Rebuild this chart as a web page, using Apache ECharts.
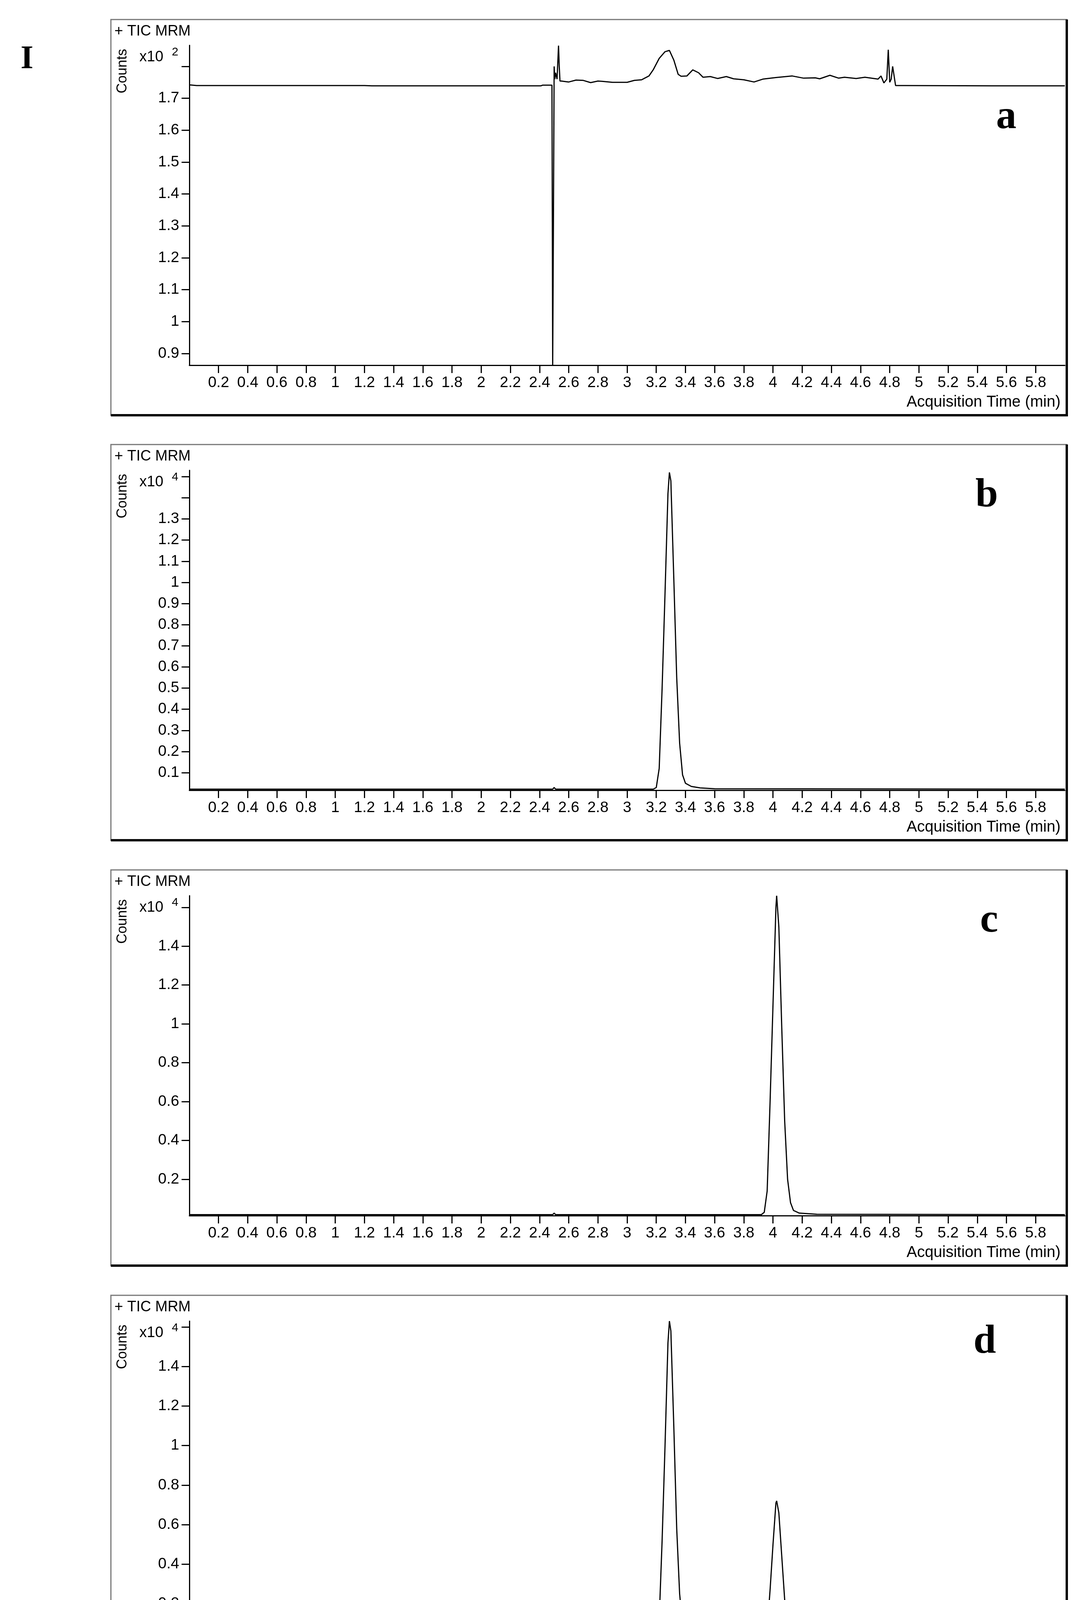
<!DOCTYPE html>
<html><head><meta charset="utf-8">
<script src="https://cdn.jsdelivr.net/npm/echarts@6/dist/echarts.min.js"></script>
<style>html,body{margin:0;padding:0;background:#fff}#c{width:2771px;height:4364px}</style>
</head><body><div id="c"></div>
<script>
// ---- data ----
const panelLetters = ['a','b','c','d'];
const exponents = ['2','4','4','4'];
const xTicks = [0.2,0.4,0.6,0.8,1,1.2,1.4,1.6,1.8,2,2.2,2.4,2.6,2.8,3,3.2,3.4,3.6,3.8,4,4.2,4.4,4.6,4.8,5,5.2,5.4,5.6,5.8];
const yTicksA = [0.9,1,1.1,1.2,1.3,1.4,1.5,1.6,1.7,1.8];
const yLabelsA = [0.9,1,1.1,1.2,1.3,1.4,1.5,1.6,1.7];
const yTicksB = [0.1,0.2,0.3,0.4,0.5,0.6,0.7,0.8,0.9,1,1.1,1.2,1.3,1.4,1.5];
const yLabelsB = [0.1,0.2,0.3,0.4,0.5,0.6,0.7,0.8,0.9,1,1.1,1.2,1.3];
const yTicksCD = [0.2,0.4,0.6,0.8,1,1.2,1.4,1.6];
const yLabelsCD = [0.2,0.4,0.6,0.8,1,1.2,1.4];
const yRanges = [[0.863,1.866],[0.017,1.53],[0.013,1.66],[0.011,1.63]];

const seriesA = [[0,1.742],[0.05,1.740],[1.2,1.740],[1.25,1.739],[2.41,1.739],[2.42,1.741],[2.485,1.741],[2.49,0.863],[2.495,1.30],[2.50,1.80],[2.505,1.76],[2.51,1.78],[2.52,1.76],[2.53,1.865],[2.535,1.80],[2.54,1.754],[2.55,1.754],[2.60,1.751],[2.65,1.757],[2.70,1.756],[2.75,1.749],[2.80,1.754],[2.83,1.753],[2.90,1.750],[3.00,1.750],[3.05,1.756],[3.10,1.758],[3.15,1.770],[3.18,1.790],[3.22,1.825],[3.26,1.846],[3.29,1.850],[3.32,1.820],[3.35,1.775],[3.37,1.769],[3.41,1.770],[3.45,1.789],[3.49,1.780],[3.52,1.766],[3.57,1.768],[3.62,1.762],[3.68,1.768],[3.73,1.761],[3.80,1.758],[3.87,1.751],[3.93,1.760],[4.02,1.765],[4.13,1.770],[4.21,1.763],[4.29,1.764],[4.32,1.761],[4.39,1.772],[4.45,1.763],[4.49,1.766],[4.57,1.762],[4.63,1.766],[4.72,1.760],[4.74,1.770],[4.76,1.748],[4.78,1.760],[4.79,1.852],[4.80,1.750],[4.81,1.760],[4.82,1.800],[4.84,1.740],[4.90,1.740],[5.5,1.739],[6.0,1.739]];
const seriesB = [[0,0.022],[2.49,0.022],[2.50,0.03],[2.51,0.022],[3.18,0.022],[3.20,0.03],[3.22,0.12],[3.24,0.50],[3.26,0.95],[3.28,1.42],[3.29,1.52],[3.30,1.48],[3.32,1.02],[3.34,0.55],[3.36,0.24],[3.38,0.09],[3.40,0.05],[3.44,0.035],[3.50,0.028],[3.60,0.024],[6.0,0.022]];
const seriesC = [[0,0.018],[2.49,0.018],[2.50,0.026],[2.51,0.018],[3.92,0.018],[3.94,0.03],[3.96,0.14],[3.98,0.60],[4.00,1.10],[4.02,1.60],[4.025,1.66],[4.04,1.50],[4.06,0.98],[4.08,0.50],[4.10,0.20],[4.12,0.08],[4.14,0.04],[4.18,0.026],[4.30,0.02],[6.0,0.018]];
const seriesD = [[0,0.016],[2.49,0.016],[2.50,0.024],[2.51,0.016],[3.18,0.016],[3.20,0.03],[3.22,0.12],[3.24,0.52],[3.26,1.00],[3.28,1.52],[3.29,1.63],[3.30,1.58],[3.32,1.10],[3.34,0.58],[3.36,0.25],[3.38,0.09],[3.40,0.05],[3.44,0.035],[3.50,0.028],[3.60,0.024],[3.90,0.018],[3.94,0.025],[3.96,0.07],[3.98,0.27],[4.00,0.50],[4.02,0.71],[4.025,0.72],[4.04,0.66],[4.06,0.44],[4.08,0.22],[4.10,0.09],[4.12,0.04],[4.16,0.025],[4.30,0.018],[6.0,0.016]];
const allSeries = [seriesA, seriesB, seriesC, seriesD];
const yTicks = [yTicksA, yTicksB, yTicksCD, yTicksCD];
const yLabels = [yLabelsA, yLabelsB, yLabelsCD, yLabelsCD];

// ---- layout ----
const boxTops = [50, 1138, 2227, 3316];
const boxL = 284, boxR = 2732, boxH = 1013;
const letterY = [251, 131, 131, 120];
const letterX = [2577, 2527, 2533, 2522];
const FONT = 'Liberation Sans, Arial, sans-serif';

const grids = [], xAxes = [], yAxes = [], series = [], graphics = [];
for (let i = 0; i < 4; i++) {
  const t = boxTops[i];
  grids.push({left: 485, right: 44, top: t + 66, height: 819});
  xAxes.push({type: 'value', gridIndex: i, min: 0, max: 6.0,
    axisLine: {lineStyle: {color: '#000', width: 3}},
    axisTick: {customValues: xTicks, length: 20, lineStyle: {color: '#000', width: 3}},
    axisLabel: {customValues: xTicks, color: '#000', fontSize: 39, fontFamily: FONT, margin: 26},
    splitLine: {show: false}});
  yAxes.push({type: 'value', gridIndex: i, min: yRanges[i][0], max: yRanges[i][1],
    axisLine: {show: true, lineStyle: {color: '#000', width: 3}},
    axisTick: {show: true, customValues: yTicks[i], length: 20, lineStyle: {color: '#000', width: 3}},
    axisLabel: {customValues: yLabels[i], color: '#000', fontSize: 39, fontFamily: FONT, margin: 26,
      formatter: v => String(+v.toFixed(2))},
    splitLine: {show: false}});
  series.push({type: 'line', xAxisIndex: i, yAxisIndex: i, data: allSeries[i], showSymbol: false,
    lineStyle: {color: '#000', width: 3}, animation: false, clip: true});
  graphics.push({type: 'rect', shape: {x: boxL, y: t, width: boxR - boxL, height: boxH},
    style: {fill: null, stroke: '#777', lineWidth: 3}});
  graphics.push({type: 'polyline', shape: {points: [[boxR, t], [boxR, t + boxH], [boxL, t + boxH]]},
    style: {fill: null, stroke: '#000', lineWidth: 6}});
  graphics.push({type: 'text', x: 293, y: t + 31, style: {text: '+ TIC MRM', font: '38px ' + FONT, fill: '#000', textVerticalAlign: 'middle'}});
  graphics.push({type: 'text', x: 357, y: t + 97, style: {text: 'x10', font: '38px ' + FONT, fill: '#000', textVerticalAlign: 'middle'}});
  graphics.push({type: 'text', x: 440, y: t + 84, style: {text: exponents[i], font: '30px ' + FONT, fill: '#000', textVerticalAlign: 'middle'}});
  graphics.push({type: 'text', x: 314, y: t + 132, rotation: Math.PI / 2,
    style: {text: 'Counts', font: '36px ' + FONT, fill: '#000', textAlign: 'center', textVerticalAlign: 'middle'}});
  graphics.push({type: 'text', x: 2716, y: t + 980, style: {text: 'Acquisition Time (min)', font: '40px ' + FONT, fill: '#000', textAlign: 'right', textVerticalAlign: 'middle'}});
  graphics.push({type: 'text', x: letterX[i], y: t + letterY[i], style: {text: panelLetters[i], font: 'bold 104px "Liberation Serif", "Times New Roman", serif', fill: '#000', textAlign: 'center', textVerticalAlign: 'middle'}});
}
graphics.push({type: 'text', x: 69, y: 153, style: {text: 'I', font: 'bold 84px "Liberation Serif", "Times New Roman", serif', fill: '#000', textAlign: 'center', textVerticalAlign: 'middle'}});

const chart = echarts.init(document.getElementById('c'), null, {renderer: 'canvas'});
chart.setOption({animation: false, backgroundColor: '#fff', grid: grids, xAxis: xAxes, yAxis: yAxes, series: series, graphic: graphics});
</script></body></html>
